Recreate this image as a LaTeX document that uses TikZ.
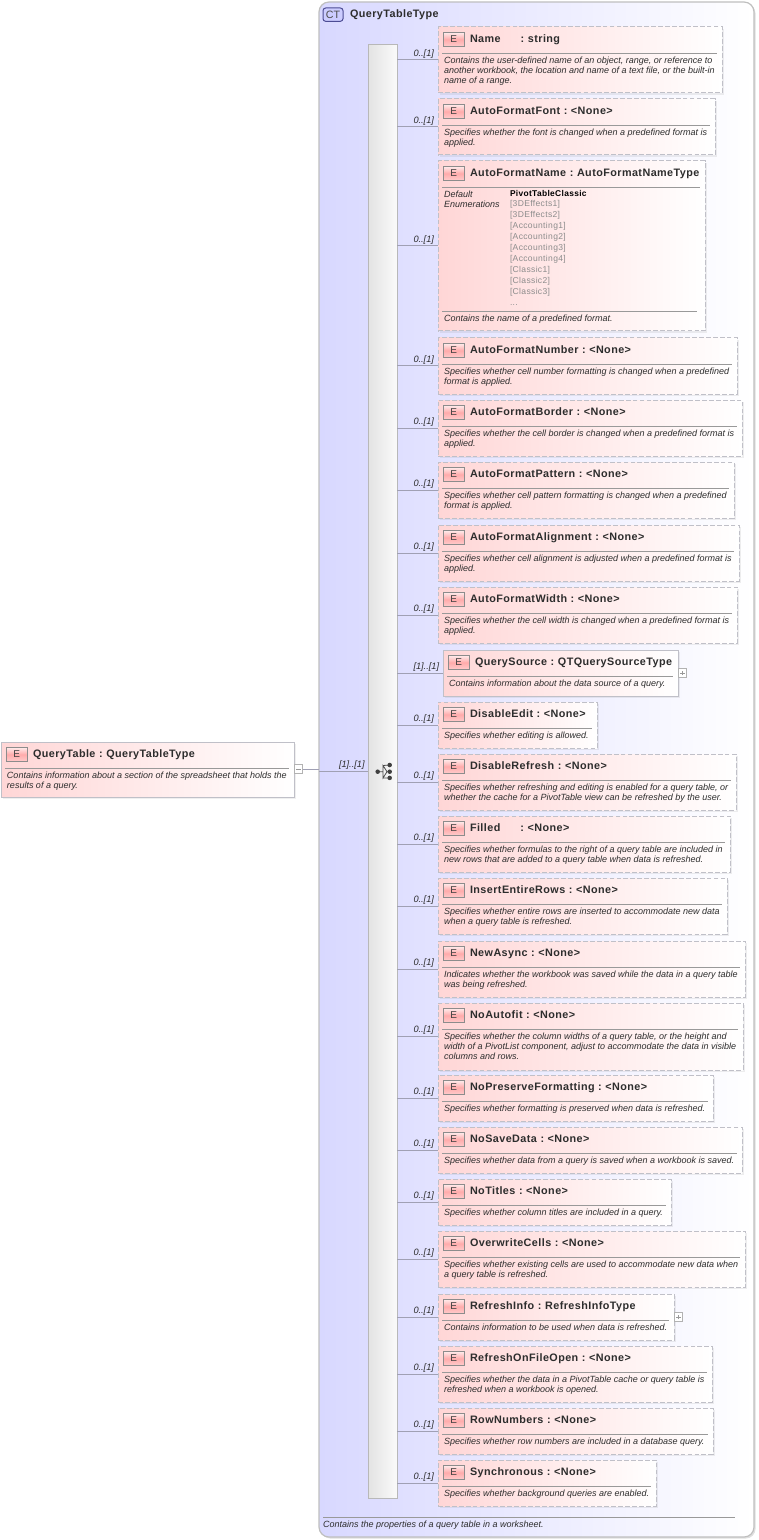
\documentclass[tikz,border=0pt]{standalone}
\usepackage{fontspec}
\setmainfont{Liberation Sans}
\newfontfamily\ttlfont[LetterSpace=4]{Liberation Sans}
\newfontfamily\enumfont[LetterSpace=4]{Liberation Sans}
\usetikzlibrary{shadows}
\definecolor{elpink}{RGB}{255,214,214}
\definecolor{ctblue}{RGB}{216,216,255}
\definecolor{edgegray}{RGB}{192,192,200}
\definecolor{conngray}{RGB}{160,160,180}
\definecolor{txtdark}{RGB}{45,45,45}
\tikzset{
  x=0.75pt,y=-0.75pt,
  every node/.style={inner sep=0pt,outer sep=0pt},
  elbase/.style={anchor=north west,left color=elpink,right color=white,line width=0.75pt,
     drop shadow={shadow xshift=1.3pt,shadow yshift=-1.3pt,opacity=.13,fill=black!50}},
  optbox/.style={elbase,draw=edgegray,dash pattern=on 3.6pt off 1.6pt},
  reqbox/.style={elbase,draw=edgegray},
  ebadge/.style={anchor=north west,draw=black!45,line width=0.75pt,top color=red!8!white,bottom color=red!20!white,middle color=red!33!white,
     minimum width=16pt,minimum height=10.5pt,font=\fontsize{7.5pt}{8pt}\selectfont,text=black!75},
  eltitle/.style={anchor=base west,font=\ttlfont\bfseries\fontsize{8.1pt}{10pt}\selectfont,text=txtdark},
  eldesc/.style={anchor=north west,align=left,font=\itshape\fontsize{6.75pt}{7.5pt}\selectfont,text=txtdark},
  mult/.style={anchor=west,font=\itshape\fontsize{6.9pt}{8pt}\selectfont,text=txtdark},
  sepline/.style={draw=black!40,line width=0.6pt},
  conn/.style={draw=conngray,line width=0.75pt},
  plusbox/.style={draw=black!30,fill=white,line width=0.6pt,minimum width=6.5pt,minimum height=6.5pt,anchor=center},
  enumval/.style={anchor=base west,font=\enumfont\fontsize{6.4pt}{8pt}\selectfont,text=black!45},
}
\newcommand{\elem}[8]{% name x1 y1 x2 y2 style title desc
  \node[#6,minimum width={(#4-#2)*0.75pt},minimum height={(#5-#3)*0.75pt}] (#1) at (#2,#3) {};
  \node[ebadge] (#1-e) at (#2+5,#3+5.5) {E};
  \node[eltitle] (#1-t) at (#2+32,#3+15.7) {#7};
  \coordinate (#1-sa) at (#2+4,#3+26);
  \coordinate (#1-sb) at (#4-5,#3+26);
  \draw[sepline] (#1-sa) -- (#1-sb);
  \node[eldesc] (#1-d) at (#2+6,#3+30.3) {#8};
}
\newcommand{\link}[2]{% box, multiplicity
  \draw[conn] (#1.west -| seq.east) -- (#1.west);
  \path (#1.west) ++(-24.5,-6) node[mult] (#1-m) {#2};
}
\begin{document}
\begin{tikzpicture}
\useasboundingbox (0,0) rectangle (758,1540);
% complex type container
\node[anchor=north west,minimum width={435*0.75pt},minimum height={1535*0.75pt},rounded corners=7.5pt,
  draw=black!25,line width=0.9pt,left color=ctblue,right color=white,
  drop shadow={shadow xshift=1.2pt,shadow yshift=-1.2pt,opacity=.25,fill=black!50}] (ct) at (319,2) {};
\node[anchor=north west,minimum width=15pt,minimum height=10pt,rounded corners=2pt,draw=black!60!blue!70,
  line width=0.75pt,fill=blue!20,font=\fontsize{8pt}{8pt}\selectfont,text=black!70] (ctb) at (323,8) {CT};
\node[eltitle] (ctt) at (350,18) {QueryTableType};
% sequence bar
\node[anchor=north west,minimum width={29*0.75pt},minimum height={1453*0.75pt},draw=black!28,line width=0.75pt,
  left color=black!11,right color=black!2,
  drop shadow={shadow xshift=1pt,shadow yshift=-1pt,opacity=.25,fill=black!50}] (seq) at (368,45) {};
% sequence icon
\coordinate (ic0) at (377.7,771.7);
\coordinate (ic1) at (383,771.7);
\coordinate (ic2) at (389.7,765);
\coordinate (ic3) at (389.7,771.7);
\coordinate (ic4) at (389.7,777.9);
\coordinate (ta) at (383,765.5);
\coordinate (tb) at (387,771.7);
\coordinate (tc) at (383,778);
\draw[black!70,line width=0.6pt] (ic0) -- (ic1) (ta) -- (tb) -- (tc) -- cycle;
\draw[black!70,line width=0.6pt] (ta) -- (ic2) (tb) -- (ic3) (tc) -- (ic4);
\foreach \c in {ic0,ic2,ic3,ic4} \fill[black!75] (\c) circle[radius=1.7pt];
% root
\elem{root}{1}{742}{294}{797}{reqbox}{QueryTable\,\,:\,\,QueryTableType}{Contains information about a section of the spreadsheet that holds the\\results of a query.}
\node[plusbox] (rootm) at (298.5,769) {};
\draw[black!40,line width=0.5pt] (rootm.west) ++(1.5pt,0) -- ++(3.5pt,0);
\coordinate (ctin) at (319,769);
\draw[conn] (rootm.east) -- (ctin);
\draw[conn] (ct.west |- seq.center) ++(0,0) -- (seq.west |- seq.center);
\node[mult] (rootmul) at (339,765.5) {[1]..[1]};
% elements
\elem{n1}{438}{27}{722}{93}{optbox}{Name\hspace{15pt}:\,\,string}{Contains the user-defined name of an object, range, or reference to\\another workbook, the location and name of a text file, or the built-in\\name of a range.}
\link{n1}{0..[1]}
\elem{n2}{438}{99}{715}{155}{optbox}{AutoFormatFont\,\,:\,\,<None>}{Specifies whether the font is changed when a predefined format is\\applied.}
\link{n2}{0..[1]}
\elem{n3}{438}{161}{705}{331}{optbox}{AutoFormatName\,\,:\,\,AutoFormatNameType}{Default\\Enumerations}
\link{n3}{0..[1]}
\node[enumval,font=\enumfont\bfseries\fontsize{6.3pt}{8pt}\selectfont,text=black] (v0) at (510,197) {PivotTableClassic};
\node[enumval] (v1) at (510,207) {[3DEffects1]};
\node[enumval] (v2) at (510,218) {[3DEffects2]};
\node[enumval] (v3) at (510,229) {[Accounting1]};
\node[enumval] (v4) at (510,240) {[Accounting2]};
\node[enumval] (v5) at (510,251) {[Accounting3]};
\node[enumval] (v6) at (510,262) {[Accounting4]};
\node[enumval] (v7) at (510,273) {[Classic1]};
\node[enumval] (v8) at (510,284) {[Classic2]};
\node[enumval] (v9) at (510,295) {[Classic3]};
\node[enumval] (v10) at (510,306) {...};
\coordinate (n3a) at (442,311);
\coordinate (n3b) at (697,311);
\draw[sepline] (n3a) -- (n3b);
\node[eldesc] (n3-d2) at (444,314.5) {Contains the name of a predefined format.};
\elem{n4}{438}{338}{737}{394}{optbox}{AutoFormatNumber\,\,:\,\,<None>}{Specifies whether cell number formatting is changed when a predefined\\format is applied.}
\link{n4}{0..[1]}
\elem{n5}{438}{400}{742}{456}{optbox}{AutoFormatBorder\,\,:\,\,<None>}{Specifies whether the cell border is changed when a predefined format is\\applied.}
\link{n5}{0..[1]}
\elem{n6}{438}{462}{734}{518}{optbox}{AutoFormatPattern\,\,:\,\,<None>}{Specifies whether cell pattern formatting is changed when a predefined\\format is applied.}
\link{n6}{0..[1]}
\elem{n7}{438}{525}{739}{581}{optbox}{AutoFormatAlignment\,\,:\,\,<None>}{Specifies whether cell alignment is adjusted when a predefined format is\\applied.}
\link{n7}{0..[1]}
\elem{n8}{438}{587}{737}{643}{optbox}{AutoFormatWidth\,\,:\,\,<None>}{Specifies whether the cell width is changed when a predefined format is\\applied.}
\link{n8}{0..[1]}
\elem{n9}{443}{650}{678}{696}{reqbox}{QuerySource\,\,:\,\,QTQuerySourceType}{Contains information about the data source of a query.}
\draw[conn] (n9.west -| seq.east) -- (n9.west);
\path (n9.west) ++(-29.5,-6) node[mult] (n9-m) {[1]..[1]};
\node[plusbox] (n9p) at (682.5,673) {};
\draw[black!40,line width=0.5pt] (n9p.west) ++(1.5pt,0) -- ++(3.5pt,0) (n9p.south) ++(0,1.5pt) -- ++(0,3.5pt);
\elem{n10}{438}{702}{597}{748}{optbox}{DisableEdit\,\,:\,\,<None>}{Specifies whether editing is allowed.}
\link{n10}{0..[1]}
\elem{n11}{438}{754}{736}{810}{optbox}{DisableRefresh\,\,:\,\,<None>}{Specifies whether refreshing and editing is enabled for a query table, or\\whether the cache for a  PivotTable view can be refreshed by the user.}
\link{n11}{0..[1]}
\elem{n12}{438}{816}{730}{872}{optbox}{Filled\hspace{15pt}:\,\,<None>}{Specifies whether formulas to the right of a query table are included in\\new rows that are added to a query table when data is refreshed.}
\link{n12}{0..[1]}
\elem{n13}{438}{878}{727}{934}{optbox}{InsertEntireRows\,\,:\,\,<None>}{Specifies whether entire rows are inserted to accommodate new data\\when a query table is refreshed.}
\link{n13}{0..[1]}
\elem{n14}{438}{941}{745}{997}{optbox}{NewAsync\,\,:\,\,<None>}{Indicates whether the workbook was saved while the data in a query table\\was being refreshed.}
\link{n14}{0..[1]}
\elem{n15}{438}{1003}{743}{1070}{optbox}{NoAutofit\,\,:\,\,<None>}{Specifies whether the column widths of a query table, or the height and\\width of a PivotList component, adjust to accommodate the data in visible\\columns and rows.}
\link{n15}{0..[1]}
\elem{n16}{438}{1075}{713}{1121}{optbox}{NoPreserveFormatting\,\,:\,\,<None>}{Specifies whether formatting is preserved when data is refreshed.}
\link{n16}{0..[1]}
\elem{n17}{438}{1127}{742}{1173}{optbox}{NoSaveData\,\,:\,\,<None>}{Specifies whether data from a query is saved when a workbook is saved.}
\link{n17}{0..[1]}
\elem{n18}{438}{1179}{671}{1225}{optbox}{NoTitles\,\,:\,\,<None>}{Specifies whether column titles are included in a query.}
\link{n18}{0..[1]}
\elem{n19}{438}{1231}{745}{1287}{optbox}{OverwriteCells\,\,:\,\,<None>}{Specifies whether existing cells are used to accommodate new data when\\a query table is refreshed.}
\link{n19}{0..[1]}
\elem{n20}{438}{1294}{674}{1340}{optbox}{RefreshInfo\,\,:\,\,RefreshInfoType}{Contains information to be used when data is refreshed.}
\link{n20}{0..[1]}
\node[plusbox] (n20p) at (678.5,1317) {};
\draw[black!40,line width=0.5pt] (n20p.west) ++(1.5pt,0) -- ++(3.5pt,0) (n20p.south) ++(0,1.5pt) -- ++(0,3.5pt);
\elem{n21}{438}{1346}{712}{1402}{optbox}{RefreshOnFileOpen\,\,:\,\,<None>}{Specifies whether the data in a PivotTable cache or query table is\\refreshed when a workbook is opened.}
\link{n21}{0..[1]}
\elem{n22}{438}{1408}{713}{1454}{optbox}{RowNumbers\,\,:\,\,<None>}{Specifies whether row numbers are included in a database query.}
\link{n22}{0..[1]}
\elem{n23}{438}{1460}{656}{1506}{optbox}{Synchronous\,\,:\,\,<None>}{Specifies whether background queries are enabled.}
\link{n23}{0..[1]}
% container footer
\coordinate (fa) at (323,1517);
\coordinate (fb) at (735,1517);
\draw[sepline] (fa) -- (fb);
\node[eldesc] (ctd) at (323,1521) {Contains the properties of a query table in a worksheet.};
\end{tikzpicture}
\end{document}
